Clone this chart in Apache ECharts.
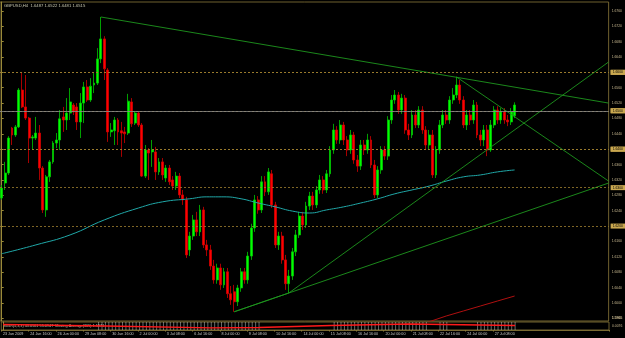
<!DOCTYPE html>
<html><head><meta charset="utf-8">
<script src="https://cdn.jsdelivr.net/npm/echarts@6/dist/echarts.min.js"></script>
<style>html,body{margin:0;padding:0;background:#000;}#c{width:625px;height:338px;}</style>
</head><body><div id="c"></div>
<script>
// ---- data (GBPUSD, H4) ----
const title = 'GBPUSD,H4  1.6487 1.6522 1.6481 1.6515';
const xTickLabels = ['23 Jun 2009','24 Jun 16:00','26 Jun 00:00','29 Jun 08:00','30 Jun 16:00','2 Jul 00:00','3 Jul 08:00','6 Jul 16:00','8 Jul 00:00','9 Jul 08:00','10 Jul 16:00','14 Jul 00:00','15 Jul 08:00','16 Jul 16:00','20 Jul 00:00','21 Jul 08:00','22 Jul 16:00','24 Jul 00:00','27 Jul 08:00'];
const yTicks = [1.5960,1.6000,1.6040,1.6080,1.6120,1.6160,1.6200,1.6240,1.6280,1.6320,1.6360,1.6400,1.6440,1.6480,1.6520,1.6560,1.6600,1.6640,1.6680,1.6720,1.6760];
const opens = [1.6273,1.6312,1.6338,1.6455,1.6437,1.6458,1.6554,1.6510,1.6481,1.6429,1.6429,1.6442,1.6351,1.6242,1.6328,1.6367,1.6416,1.6424,1.6484,1.6476,1.6494,1.6515,1.6510,1.6471,1.6520,1.6562,1.6528,1.6567,1.6572,1.6635,1.6687,1.6606,1.6445,1.6448,1.6476,1.6448,1.6445,1.6442,1.6523,1.6468,1.6494,1.6463,1.6330,1.6398,1.6393,1.6393,1.6341,
1.6367,1.6325,1.6351,1.6320,1.6304,1.6330,1.6281,1.6268,1.6138,1.6174,1.6216,1.6185,1.6242,1.6151,1.6138,1.6096,1.6060,1.6091,1.6047,1.6081,1.6024,1.6029,1.6003,1.6039,1.6081,1.6060,1.6122,1.6195,1.6268,1.6242,1.6315,1.6289,1.6336,1.6255,1.6151,1.6174,1.6112,1.6050,1.6070,1.6133,1.6177,1.6226,1.6203,1.6252,1.6278,1.6255,1.6294,1.6320,1.6294,1.6336,1.6398,1.6450,1.6424,1.6463,1.6424,1.6398,1.6437,1.6372,1.6356,1.6411,1.6398,1.6424,1.6359,1.6281,1.6346,1.6398,1.6382,1.6476,1.6528,1.6541,1.6502,1.6533,1.6450,1.6437,1.6489,1.6463,1.6502,1.6450,1.6411,1.6437,1.6333,1.6398,1.6463,1.6489,1.6476,1.6528,1.6541,1.6567,1.6528,1.6463,1.6489,1.6476,1.6515,1.6437,1.6424,1.6450,1.6398,1.6463,1.6502,1.6476,1.6497,1.6476,1.6471,1.6487];
const highs = [1.6307,1.6367,1.6434,1.6458,1.6463,1.6559,1.6601,1.6593,1.6484,1.6437,1.6484,1.6463,1.6356,1.6333,1.6372,1.6421,1.6442,1.6502,1.6510,1.6533,1.6559,1.6520,1.6520,1.6546,1.6575,1.6580,1.6585,1.6598,1.6663,1.6744,1.6694,1.6611,1.6468,1.6484,1.6481,1.6471,1.6458,1.6544,1.6533,1.6499,1.6499,1.6468,1.6411,1.6403,1.6424,1.6406,1.6377,
1.6377,1.6359,1.6359,1.6330,1.6341,1.6338,1.6294,1.6276,1.6185,1.6229,1.6237,1.6255,1.6250,1.6164,1.6151,1.6112,1.6102,1.6102,1.6091,1.6091,1.6044,1.6047,1.6047,1.6091,1.6091,1.6133,1.6206,1.6281,1.6278,1.6330,1.6330,1.6351,1.6346,1.6263,1.6185,1.6185,1.6125,1.6086,1.6143,1.6190,1.6237,1.6237,1.6263,1.6289,1.6289,1.6304,1.6333,1.6330,1.6346,1.6408,1.6466,1.6460,1.6476,1.6471,1.6434,1.6450,1.6445,1.6385,1.6424,1.6424,1.6440,1.6434,1.6372,1.6356,1.6408,1.6408,1.6486,1.6541,1.6554,1.6549,1.6544,1.6541,1.6466,1.6502,1.6502,1.6512,1.6512,1.6460,1.6450,1.6450,1.6408,1.6476,1.6502,1.6502,1.6538,1.6559,1.6588,1.6580,1.6538,1.6502,1.6502,1.6528,1.6523,1.6450,1.6463,1.6463,1.6476,1.6512,1.6512,1.6507,1.6507,1.6489,1.6507,1.6522];
const lows = [1.6268,1.6294,1.6333,1.6411,1.6432,1.6455,1.6507,1.6476,1.6364,1.6398,1.6424,1.6320,1.6234,1.6224,1.6315,1.6362,1.6403,1.6398,1.6445,1.6450,1.6476,1.6489,1.6450,1.6429,1.6468,1.6523,1.6523,1.6546,1.6567,1.6624,1.6580,1.6419,1.6432,1.6411,1.6411,1.6380,1.6416,1.6437,1.6458,1.6463,1.6458,1.6328,1.6325,1.6320,1.6354,1.6320,1.6333,
1.6320,1.6315,1.6307,1.6294,1.6294,1.6273,1.6255,1.6117,1.6122,1.6164,1.6174,1.6174,1.6143,1.6122,1.6086,1.6050,1.6050,1.6034,1.6039,1.6013,1.5995,1.5977,1.5992,1.6029,1.6050,1.6050,1.6112,1.6185,1.6232,1.6234,1.6278,1.6281,1.6247,1.6143,1.6138,1.6102,1.6034,1.6026,1.6060,1.6122,1.6169,1.6190,1.6195,1.6242,1.6242,1.6247,1.6284,1.6284,1.6286,1.6328,1.6388,1.6414,1.6414,1.6411,1.6382,1.6388,1.6362,1.6341,1.6346,1.6385,1.6388,1.6351,1.6273,1.6273,1.6336,1.6372,1.6372,1.6466,1.6518,1.6492,1.6492,1.6440,1.6424,1.6429,1.6455,1.6455,1.6440,1.6398,1.6398,1.6325,1.6325,1.6388,1.6455,1.6466,1.6466,1.6518,1.6533,1.6518,1.6455,1.6450,1.6463,1.6466,1.6429,1.6408,1.6408,1.6382,1.6393,1.6455,1.6466,1.6466,1.6466,1.6460,1.6463,1.6481];
const closes = [1.6299,1.6338,1.6429,1.6437,1.6458,1.6554,1.6510,1.6481,1.6429,1.6432,1.6442,1.6351,1.6242,1.6328,1.6367,1.6416,1.6424,1.6479,1.6476,1.6494,1.6523,1.6497,1.6471,1.6520,1.6562,1.6528,1.6564,1.6572,1.6635,1.6687,1.6609,1.6445,1.6450,1.6476,1.6445,1.6442,1.6440,1.6525,1.6466,1.6494,1.6463,1.6330,1.6398,1.6390,1.6398,1.6341,1.6367,
1.6333,1.6351,1.6315,1.6304,1.6330,1.6281,1.6268,1.6125,1.6174,1.6216,1.6185,1.6242,1.6151,1.6138,1.6096,1.6060,1.6091,1.6047,1.6081,1.6024,1.6008,1.6003,1.6039,1.6081,1.6060,1.6122,1.6195,1.6268,1.6242,1.6315,1.6289,1.6341,1.6255,1.6151,1.6174,1.6112,1.6050,1.6070,1.6133,1.6177,1.6226,1.6203,1.6252,1.6278,1.6255,1.6294,1.6320,1.6294,1.6336,1.6398,1.6450,1.6424,1.6463,1.6424,1.6398,1.6437,1.6372,1.6356,1.6411,1.6398,1.6424,1.6359,1.6281,1.6346,1.6398,1.6382,1.6476,1.6528,1.6541,1.6502,1.6533,1.6450,1.6437,1.6489,1.6463,1.6502,1.6450,1.6411,1.6437,1.6333,1.6398,1.6463,1.6489,1.6476,1.6528,1.6541,1.6567,1.6528,1.6463,1.6489,1.6476,1.6515,1.6437,1.6424,1.6450,1.6398,1.6463,1.6502,1.6476,1.6497,1.6476,1.6471,1.6497,1.6515];
// moving average (teal), sampled by bar index
const maIdx = [0,10,20,30,40,47,55,60,65,70,75,80,85,90,95,100,105,110,115,120,125,130,135,140,145,150];
const maVal = [1.6128,1.6151,1.6177,1.6216,1.6247,1.6263,1.6271,1.6276,1.6276,1.6271,1.6260,1.6250,1.6239,1.6234,1.6242,1.6250,1.6260,1.6271,1.6284,1.6294,1.6304,1.6317,1.6328,1.6333,1.6341,1.6346];
// long moving average (red)
const ma2Idx = [120,125,130,135,140,145,150];
const ma2Val = [1.5938,1.5951,1.5966,1.5979,1.5992,1.6005,1.6018];
// horizontal levels
const levels = [1.6601,1.6551,1.6458,1.6429,1.6377,1.6328,1.6195];
const bidPrice = 1.6515;
// trendlines [barIndexA, priceA, barIndexB, priceB]
const trendLines = [
  [29,1.6744,177.5,1.6520],
  [133,1.6588,177.5,1.6317],
  [84,1.6026,177.5,1.6627],
  [68,1.5977,177.5,1.6312],
  [68,1.5977,84,1.6026]
];
// lower indicator window
const indIdx = [0,30,61,75,96,119,150];
const indVal = [5.5,4,2.2,2.5,4.5,6,4.5];
const histFrom = [28,97,128,139];
const histTo   = [75,124,130,150];

const N = 178;
const cats = Array.from({length:N},(_,i)=>String(i));
const candles = opens.map((o,i)=>[o,closes[i],lows[i],highs[i]]);
const hist = cats.map((c,i)=>histFrom.some((f,k)=>i>=f && i<=histTo[k]) ? 8 : null);
const OL = '#8c7a3a';
const FF = 'Liberation Sans';

const chart = echarts.init(document.getElementById('c'), null, {renderer:'canvas'});
const series = [
  {type:'candlestick', xAxisIndex:0, yAxisIndex:0, data:candles, barWidth:2.4,
   itemStyle:{color:'#00ff00', color0:'#ff0000', borderColor:'#00c800', borderColor0:'#d00000', borderWidth:0.8},
   markLine:{silent:true, symbol:'none', animation:false,
     data: levels.map(v=>({yAxis:v, lineStyle:{type:[2,2], color:'#a08030', width:0.8}}))
       .concat([{yAxis:bidPrice, lineStyle:{type:'solid', color:'#8a8a8a', width:0.8}}]),
     label:{show:true, position:'end', distance:2, formatter:p=>p.value.toFixed(4), fontSize:3.4, color:'#000', backgroundColor:'#caa850', padding:[1,2], fontFamily:FF}
   }},
  {type:'line', xAxisIndex:1, yAxisIndex:0, data:maIdx.map((x,i)=>[x,maVal[i]]), symbol:'none', smooth:true, lineStyle:{color:'#20a8a8', width:1}},
  {type:'line', xAxisIndex:1, yAxisIndex:0, data:ma2Idx.map((x,i)=>[x,ma2Val[i]]), symbol:'none', lineStyle:{color:'#b01010', width:1}, clip:true}
];
trendLines.forEach(t=>{
  series.push({type:'line', xAxisIndex:1, yAxisIndex:0, data:[[t[0],t[1]],[t[2],t[3]]], symbol:'none', lineStyle:{color:'#1e961e', width:0.9}, clip:true});
});
series.push({type:'bar', xAxisIndex:2, yAxisIndex:1, data:hist, barWidth:1, z:2, itemStyle:{color:'rgba(210,210,210,0.5)'}});
series.push({type:'line', xAxisIndex:3, yAxisIndex:1, data:indIdx.map((x,i)=>[x,indVal[i]]), symbol:'none', z:5, clip:false, lineStyle:{color:'#ff1a1a', width:1.3}});

chart.setOption({
  animation:false,
  backgroundColor:'#000',
  grid:[
    {left:0, right:16, top:2, height:319, show:true, borderColor:OL, borderWidth:0.8, backgroundColor:'transparent'},
    {left:0, right:16, top:322, height:8, show:true, borderColor:OL, borderWidth:0.8, backgroundColor:'transparent'}
  ],
  xAxis:[
    {type:'category', gridIndex:0, data:cats, boundaryGap:true, show:false},
    {type:'value', gridIndex:0, min:-0.5, max:177.5, show:false},
    {type:'category', gridIndex:1, data:cats, boundaryGap:true, position:'bottom',
     axisLine:{lineStyle:{color:OL, width:0.8}},
     axisTick:{show:true, length:1.5, interval:(i)=>i%8===0 && i/8<xTickLabels.length, lineStyle:{color:OL}},
     axisLabel:{show:true, margin:2, fontSize:3.7, color:'#c8c8c8', align:'left', fontFamily:FF, hideOverlap:false,
       interval:(i)=>i%8===0 && i/8<xTickLabels.length, formatter:(v,i)=>xTickLabels[i/8]||''}},
    {type:'value', gridIndex:1, min:-0.5, max:177.5, show:false}
  ],
  yAxis:[
    {type:'value', gridIndex:0, position:'right', min:1.5953, max:1.6783, splitLine:{show:false},
     axisLine:{show:true, lineStyle:{color:'#9a8a3a', width:1}},
     axisTick:{show:true, length:2, customValues:yTicks, lineStyle:{color:'#9a8a3a'}},
     axisLabel:{show:true, margin:3, fontSize:3.4, color:'#c8b890', customValues:yTicks, formatter:v=>v.toFixed(4), fontFamily:FF}},
    {type:'value', gridIndex:1, position:'right', min:0, max:8, splitLine:{show:false},
     axisLine:{show:true, lineStyle:{color:'#9a8a3a', width:1}}, axisTick:{show:false}, axisLabel:{show:false}}
  ],
  graphic:[
    {type:'text', left:4, top:4, style:{text:title, fontSize:4.2, fill:'#c8c8b0', fontFamily:FF}},
    {type:'text', left:3, top:324, style:{text:'Stoch(5,3,3) 43.0561 55.0947  Moving Average(365) 1.5971', fontSize:3.8, fill:'#c8c8b0', fontFamily:FF}},
    {type:'text', left:612, top:317, style:{text:'1.5965', fontSize:3.4, fill:'#c8b890', fontFamily:FF}},
    {type:'text', left:612, top:325, style:{text:'0.0076', fontSize:3.4, fill:'#c8b890', fontFamily:FF}}
  ],
  series:series
});
</script></body></html>
